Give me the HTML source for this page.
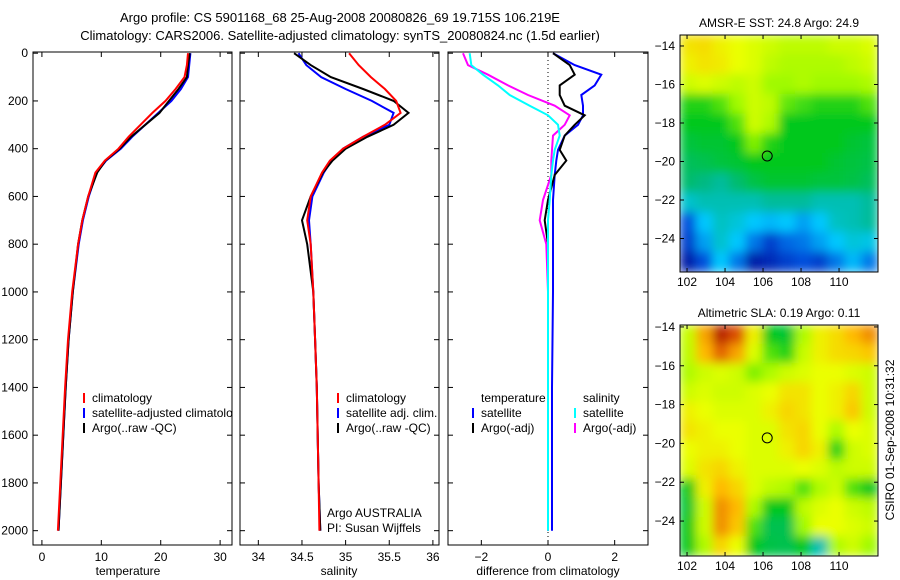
<!DOCTYPE html>
<html><head><meta charset="utf-8"><style>
body{margin:0;background:#fff;}
svg{display:block;font-family:"Liberation Sans",sans-serif;}
text{font-size:12px;fill:#000;}
</style></head><body>
<svg id="fig" width="900" height="580" viewBox="0 0 900 580" xmlns="http://www.w3.org/2000/svg">
<defs>
<filter id="blur" x="0" y="0" width="1" height="1"><feGaussianBlur stdDeviation="5" edgeMode="duplicate"/></filter>
<clipPath id="c1"><rect x="33" y="52" width="199" height="493"/></clipPath>
<clipPath id="c2"><rect x="240" y="52" width="199" height="493"/></clipPath>
<clipPath id="c3"><rect x="448" y="52" width="200" height="493"/></clipPath>
<clipPath id="m1"><rect x="680" y="35" width="198" height="237"/></clipPath>
<clipPath id="m2"><rect x="680" y="325" width="198" height="231"/></clipPath>
</defs>
<text x="340" y="22" text-anchor="middle" style="font-size:13px">Argo profile: CS 5901168_68 25-Aug-2008 20080826_69 19.715S 106.219E</text>
<text x="340" y="40" text-anchor="middle" style="font-size:13px">Climatology: CARS2006. Satellite-adjusted climatology: synTS_20080824.nc (1.5d earlier)</text>
<g id="g"></g>
<text x="128" y="575" text-anchor="middle">temperature</text>
<text x="339" y="575" text-anchor="middle">salinity</text>
<text x="548" y="575" text-anchor="middle">difference from climatology</text>
<text x="779" y="27" text-anchor="middle">AMSR-E SST: 24.8 Argo: 24.9</text>
<text x="779" y="317" text-anchor="middle">Altimetric SLA: 0.19 Argo: 0.11</text>
<text transform="translate(894,440) rotate(-90)" text-anchor="middle">CSIRO 01-Sep-2008 10:31:32</text>
<text x="327" y="517">Argo AUSTRALIA</text>
<text x="327" y="532">PI: Susan Wijffels</text>
</svg>
<script>
// ---- data ----
const depths = [0,50,100,150,200,250,300,350,400,450,500,600,700,800,1000,1200,1400,1600,1800,2000];
const tempClim = [24.6,24.4,24.0,22.5,20.8,18.6,16.6,14.6,12.9,10.6,9.0,7.8,6.8,6.1,5.1,4.4,3.9,3.5,3.1,2.7];
const tempSat  = [25.0,24.8,24.6,23.4,21.8,19.6,17.4,15.2,13.3,10.8,9.2,7.9,6.9,6.2,5.2,4.5,4.0,3.6,3.2,2.8];
const tempArgo = [24.9,24.6,24.4,23.0,21.4,19.8,17.4,15.0,13.1,10.7,9.3,7.8,6.8,6.1,5.2,4.5,4.0,3.6,3.2,2.8];
const salClim = [35.04,35.15,35.29,35.45,35.58,35.63,35.45,35.2,34.97,34.82,34.73,34.6,34.56,34.6,34.63,34.65,34.67,34.68,34.69,34.7];
const salSat  = [34.46,34.55,34.72,35.0,35.3,35.55,35.5,35.2,34.97,34.84,34.75,34.62,34.58,34.6,34.63,34.65,34.67,34.68,34.69,34.71];
const salArgo = [34.41,34.6,34.83,35.2,35.55,35.72,35.55,35.25,35.0,34.85,34.74,34.6,34.5,34.56,34.63,34.65,34.67,34.68,34.69,34.71];
const dDepths = [0,50,90,135,175,220,260,300,345,405,450,510,615,700,800,1000,1400,2000];
const dTempSat  = [0.15,0.8,1.6,1.4,1.0,1.05,1.05,0.9,0.5,0.3,0.25,0.2,0.15,0.15,0.15,0.15,0.12,0.12];
const dTempArgo = [0.15,0.65,0.8,0.35,0.35,0.5,1.1,0.8,0.5,0.35,0.55,0.2,0.0,-0.1,0.0,0.0,0.0,0.0];
const dSalArgo  = [-2.55,-2.4,-1.8,-1.2,-0.6,0.2,0.65,0.5,0.15,0.12,0.1,0.1,-0.15,-0.25,-0.05,0.0,0.0,0.0];
const dSalSat   = [-2.35,-2.3,-1.95,-1.5,-1.15,-0.55,0.0,0.3,0.35,0.2,0.15,0.1,0.05,0.0,0.0,0.0,0.0,0.0];
const depthTicks = [0,200,400,600,800,1000,1200,1400,1600,1800,2000];
const tempTicks = [0,10,20,30];
const salTicks = [34,34.5,35,35.5,36];
const diffTicks = [-2,0,2];
const lonTicks = [102,104,106,108,110];
const latTicks1 = [-14,-16,-18,-20,-22,-24];
const sstGrid = [
[0.74,0.75,0.72,0.7,0.68,0.66,0.64,0.64,0.64,0.66,0.66,0.68],
[0.72,0.74,0.73,0.7,0.68,0.64,0.62,0.62,0.62,0.62,0.64,0.66],
[0.66,0.68,0.66,0.64,0.66,0.6,0.6,0.62,0.6,0.6,0.6,0.62],
[0.52,0.52,0.55,0.6,0.66,0.64,0.56,0.54,0.52,0.52,0.52,0.55],
[0.5,0.5,0.5,0.55,0.66,0.62,0.5,0.5,0.5,0.5,0.5,0.5],
[0.47,0.48,0.48,0.5,0.58,0.52,0.5,0.5,0.5,0.5,0.48,0.47],
[0.44,0.45,0.47,0.48,0.5,0.5,0.5,0.5,0.5,0.48,0.47,0.46],
[0.42,0.4,0.38,0.42,0.46,0.48,0.48,0.48,0.47,0.47,0.46,0.44],
[0.34,0.36,0.36,0.36,0.36,0.38,0.38,0.38,0.36,0.36,0.36,0.38],
[0.15,0.3,0.35,0.33,0.3,0.28,0.3,0.25,0.3,0.35,0.36,0.38],
[0.12,0.25,0.34,0.3,0.2,0.12,0.18,0.2,0.25,0.3,0.33,0.32],
[0.05,0.15,0.3,0.2,0.05,0.08,0.12,0.15,0.12,0.2,0.28,0.2]];
const slaGrid = [
[0.65,0.82,0.96,0.9,0.72,0.5,0.48,0.62,0.72,0.75,0.8,0.84],
[0.64,0.8,0.88,0.82,0.68,0.55,0.52,0.65,0.72,0.75,0.76,0.78],
[0.62,0.66,0.68,0.66,0.58,0.62,0.66,0.68,0.7,0.7,0.68,0.66],
[0.66,0.68,0.66,0.66,0.68,0.7,0.74,0.74,0.7,0.72,0.76,0.66],
[0.72,0.7,0.68,0.68,0.68,0.72,0.76,0.74,0.7,0.72,0.78,0.66],
[0.74,0.72,0.7,0.7,0.68,0.68,0.74,0.76,0.7,0.62,0.7,0.68],
[0.7,0.72,0.72,0.7,0.68,0.68,0.72,0.76,0.72,0.52,0.66,0.68],
[0.68,0.74,0.76,0.72,0.68,0.68,0.68,0.7,0.68,0.64,0.66,0.66],
[0.5,0.72,0.8,0.76,0.68,0.64,0.62,0.55,0.62,0.66,0.55,0.5],
[0.48,0.66,0.84,0.8,0.62,0.5,0.5,0.64,0.68,0.7,0.66,0.64],
[0.5,0.66,0.84,0.78,0.55,0.45,0.45,0.6,0.7,0.7,0.68,0.66],
[0.5,0.62,0.76,0.7,0.5,0.46,0.45,0.5,0.36,0.62,0.66,0.6]];
const floatLon = 106.219, floatLat = -19.715;

// ---- drawing ----
const NS='http://www.w3.org/2000/svg';
const G=document.getElementById('g');
function mk(tag,attrs,parent){const e=document.createElementNS(NS,tag);for(const k in attrs)e.setAttribute(k,attrs[k]);(parent||G).appendChild(e);return e;}
const Y0=52,Y1=545;
const yS=d=>Y0+(d+5)/(2060+5)*(Y1-Y0);
function lin(d0,d1,r0,r1){return v=>r0+(v-d0)/(d1-d0)*(r1-r0);}
const panels=[
 {n:'temperature',x0:33,x1:232,s:lin(-1.5,32,33,232),ticks:tempTicks,clip:'c1'},
 {n:'salinity',x0:240,x1:439,s:lin(33.79,36.07,240,439),ticks:salTicks,clip:'c2'},
 {n:'difference',x0:448,x1:648,s:lin(-3,3,448,648),ticks:diffTicks,clip:'c3'}];
panels.forEach((p,i)=>{
  const r=mk('rect',{x:p.x0,y:Y0,width:p.x1-p.x0,height:Y1-Y0,fill:'#fff',stroke:'#000','stroke-width':1});
  
  
  depthTicks.forEach(d=>{
    const y=yS(d);
    mk('line',{x1:p.x0,x2:p.x0+5,y1:y,y2:y,stroke:'#000'});
    mk('line',{x1:p.x1-5,x2:p.x1,y1:y,y2:y,stroke:'#000'});
    if(i===0){const t=mk('text',{x:28,y:y+4,'text-anchor':'end'});t.textContent=d;
      
      }
  });
  p.ticks.forEach(v=>{
    const x=p.s(v);
    mk('line',{x1:x,x2:x,y1:Y0,y2:Y0+5,stroke:'#000'});
    mk('line',{x1:x,x2:x,y1:Y1-5,y2:Y1,stroke:'#000'});
    const t=mk('text',{x:x,y:561,'text-anchor':'middle'});t.textContent=String(v).replace('-','\u2212');
    
    
  });
});
mk('line',{x1:panels[2].s(0),x2:panels[2].s(0),y1:Y0,y2:Y1,stroke:'#000','stroke-dasharray':'1,3'});
function line(p,ds,vs,col,name,w){
  const pts=ds.map((d,i)=>p.s(vs[i]).toFixed(1)+','+yS(d).toFixed(1)).join(' ');
  const e=mk('polyline',{points:pts,fill:'none',stroke:col,'stroke-width':w||2,'clip-path':'url(#'+p.clip+')'});
  
  
}
line(panels[0],depths,tempSat,'#00f','temp-satellite-line');
line(panels[0],depths,tempArgo,'#000','temp-argo-line');
line(panels[0],depths,tempClim,'#f00','temp-climatology-line');
line(panels[1],depths,salSat,'#00f','sal-satellite-line');
line(panels[1],depths,salArgo,'#000','sal-argo-line');
line(panels[1],depths,salClim,'#f00','sal-climatology-line');
line(panels[2],dDepths,dTempSat,'#00f','dtemp-satellite-line');
line(panels[2],dDepths,dTempArgo,'#000','dtemp-argo-line');
line(panels[2],dDepths,dSalArgo,'#f0f','dsal-argo-line');
line(panels[2],dDepths,dSalSat,'#0ff','dsal-satellite-line');
function leg(x,y,col,label,clip){
  const g=mk('g',clip?{'clip-path':'url(#'+clip+')'}:{});
  
  
  if(col)mk('line',{x1:x,x2:x,y1:y-9,y2:y+1,stroke:col,'stroke-width':2},g);
  const t=mk('text',{x:x+8,y:y},g);t.textContent=label;
}
leg(84,402,'#f00','climatology');leg(84,417,'#00f','satellite-adjusted climatology','c1');leg(84,432,'#000','Argo(..raw -QC)');
leg(338,402,'#f00','climatology');leg(338,417,'#00f','satellite adj. clim.');leg(338,432,'#000','Argo(..raw -QC)');
leg(473,402,null,'temperature');leg(575,402,null,'salinity');
leg(473,417,'#00f','satellite');leg(473,432,'#000','Argo(-adj)');
leg(575,417,'#0ff','satellite');leg(575,432,'#f0f','Argo(-adj)');
// custom colormap
const cmapStops=[[0,0,0,140],[0.15,0,80,220],[0.3,0,200,255],[0.4,0,185,130],[0.5,0,200,30],[0.6,160,250,0],[0.7,235,255,0],[0.8,255,185,0],[0.9,220,80,0],[1,160,0,0]];
function cmap(v){v=Math.max(0,Math.min(1,v));
  for(let i=1;i<cmapStops.length;i++){const a=cmapStops[i-1],b=cmapStops[i];
    if(v<=b[0]){const t=(v-a[0])/(b[0]-a[0]);
      return `rgb(${Math.round(a[1]+t*(b[1]-a[1]))},${Math.round(a[2]+t*(b[2]-a[2]))},${Math.round(a[3]+t*(b[3]-a[3]))})`;}}
  return 'rgb(160,0,0)';}
function map(grid,box,lat0,lat1,latTicks,name,clip){
  const lx=lin(101.63,112.05,box.x0,box.x1), ly=lin(lat0,lat1,box.y0,box.y1);
  const g=mk('g',{'clip-path':'url(#'+clip+')'});
  
  
  const inner=mk('g',{filter:'url(#blur)'},g);
  const rows=grid.length,cols=grid[0].length,cw=(box.x1-box.x0)/cols,ch=(box.y1-box.y0)/rows;
  mk('rect',{x:box.x0,y:box.y0,width:box.x1-box.x0,height:box.y1-box.y0,fill:cmap(0.6)},inner);
  grid.forEach((row,ri)=>row.forEach((v,ci)=>{
    const c=mk('rect',{x:box.x0+ci*cw-0.5,y:box.y0+ri*ch-0.5,width:cw+1,height:ch+1,fill:cmap(v)},inner);
    
    
  }));
  const f=mk('rect',{x:box.x0,y:box.y0,width:box.x1-box.x0,height:box.y1-box.y0,fill:'none',stroke:'#000'});
  
  
  lonTicks.forEach(v=>{const x=lx(v);
    mk('line',{x1:x,x2:x,y1:box.y1-4,y2:box.y1,stroke:'#000'});mk('line',{x1:x,x2:x,y1:box.y0,y2:box.y0+4,stroke:'#000'});
    const t=mk('text',{x:x,y:box.y1+14,'text-anchor':'middle'});t.textContent=v;
    
    });
  latTicks.forEach(v=>{const y=ly(v);
    mk('line',{x1:box.x0,x2:box.x0+4,y1:y,y2:y,stroke:'#000'});mk('line',{x1:box.x1-4,x2:box.x1,y1:y,y2:y,stroke:'#000'});
    const t=mk('text',{x:box.x0-5,y:y+4,'text-anchor':'end'});t.textContent=String(v).replace('-','\u2212');
    
    });
  const c=mk('circle',{cx:lx(floatLon),cy:ly(floatLat),r:5,fill:'none',stroke:'#000','stroke-width':1});
  
  
}
map(sstGrid,{x0:680,x1:878,y0:35,y1:272},-13.43,-25.74,latTicks1,'sst-map','m1');
map(slaGrid,{x0:680,x1:878,y0:325,y1:556},-13.9,-25.8,latTicks1,'sla-map','m2');
</script>
</body></html>
